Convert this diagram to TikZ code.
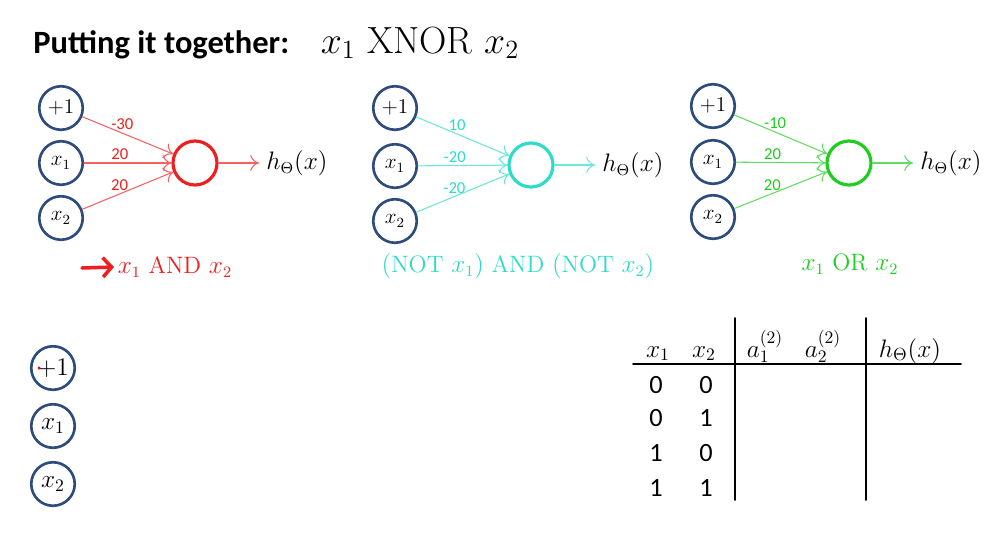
\documentclass[tikz,border=0pt]{standalone}
\usepackage{fontspec}
\usepackage{graphicx}
\newfontfamily\calibri{Carlito}
\usetikzlibrary{arrows.meta}
\definecolor{unitblue}{RGB}{45,75,125}
\definecolor{andred}{RGB}{240,30,30}
\definecolor{norcyan}{RGB}{45,220,200}
\definecolor{orgreen}{RGB}{30,205,30}
\begin{document}
\begin{tikzpicture}[x=0.02cm, y=-0.02cm, line join=round, line cap=round,
  >={To[length=5pt,width=9pt]},
  unit/.style={circle, draw=unitblue, line width=1.5pt, minimum size=0.87cm, inner sep=0pt, font=\fontsize{12}{14}\selectfont},
  bigunit/.style={unit, font=\fontsize{14.4}{16}\selectfont},
  outunit/.style={circle, line width=1.8pt, minimum size=0.88cm, inner sep=0pt},
  link/.style={->, line width=0.6pt},
  wgt/.style={font=\calibri\fontsize{9.5}{10}\selectfont, inner sep=1.5pt},
  lbl/.style={font=\fontsize{13.5}{15}\selectfont},
  tabtxt/.style={font=\fontsize{14.4}{16}\selectfont},
  digit/.style={font=\calibri\fontsize{15}{16}\selectfont}]
\fill[white] (0,0) rectangle (1005,542);
\useasboundingbox (0,0) rectangle (1005,542);

% titre
\node[anchor=base west, inner sep=0pt] (title) at (33,53)
  {{\calibri\bfseries\fontsize{18.5}{20}\selectfont Putting it together:}\hspace{18pt}\scalebox{1.04}{\fontsize{20.74}{24}\selectfont $x_1\ \mathrm{XNOR}\ x_2$}};

% les trois petits reseaux
\foreach \n/\ix/\ya/\yb/\yc/\ox/\oy/\col/\wa/\wb/\wc in {
    and/61/108/163/218/195/163/andred/-30/20/20,
    nor/395/108/166/221/531/165/norcyan/10/-20/-20,
    or/713/106/162/217/849/163/orgreen/-10/20/20}{
  \node[unit] (\n p) at (\ix,\ya) {$+1$};
  \node[unit] (\n a) at (\ix,\yb) {$x_1$};
  \node[unit] (\n b) at (\ix,\yc) {$x_2$};
  \node[outunit, draw=\col] (\n o) at (\ox,\oy) {};
  \node[lbl, anchor=west, inner xsep=4pt, inner ysep=0pt] (\n h) at (\ox+64,\oy) {$h_\Theta(x)$};
  \draw[link, \col!70] (\n p) -- node[wgt, pos=.44, above, text=\col] {\wa} (\n o);
  \draw[link, \col!70] (\n a) -- node[wgt, pos=.41, above, text=\col] {\wb} (\n o);
  \draw[link, \col!70] (\n b) -- node[wgt, pos=.41, above, text=\col] {\wc} (\n o);
  \draw[link, \col!70] (\n o) -- (\n h);
}

% ce que calcule chaque reseau
\coordinate (andarr) at (82,268);
\node[lbl, text=andred, anchor=west, inner sep=2pt] (andtxt) at (114,267) {$x_1\ \mathrm{AND}\ x_2$};
\draw[andred, line width=2pt, -{Straight Barb[length=5pt,width=11pt]}] (andarr) -- (andtxt.west);
\node[lbl, text=norcyan] (nortxt) at (518,266) {$(\mathrm{NOT}\ x_1)\ \mathrm{AND}\ (\mathrm{NOT}\ x_2)$};
\node[lbl, text=orgreen] (ortxt) at (850,264) {$x_1\ \mathrm{OR}\ x_2$};

% reseau a completer
\node[bigunit] (xp) at (53,368) {$+1$};
\node[bigunit] (xa) at (53,426) {$x_1$};
\node[bigunit] (xb) at (53,484) {$x_2$};
\fill[red] (39,368) circle (1.6);

% table de verite
\node[tabtxt, anchor=base] (hxa) at (658,357) {$x_1$};
\node[tabtxt, anchor=base] (hxb) at (704,357) {$x_2$};
\node[tabtxt, anchor=base] (haa) at (765,357) {$a_1^{(2)}$};
\node[tabtxt, anchor=base] (hab) at (823,357) {$a_2^{(2)}$};
\node[tabtxt, anchor=base] (hh) at (910,357) {$h_\Theta(x)$};
\draw[line width=1.1pt] (633,364) -- (961,364);
\draw[line width=1.1pt] (735,318) -- (735,500);
\draw[line width=1.1pt] (866,318) -- (866,500);
\foreach \a/\b/\y [count=\i] in {0/0/385, 0/1/418, 1/0/453, 1/1/488}{
  \node[digit] (ra\i) at (656,\y) {\a};
  \node[digit] (rb\i) at (706,\y) {\b};
}
\end{tikzpicture}
\end{document}
